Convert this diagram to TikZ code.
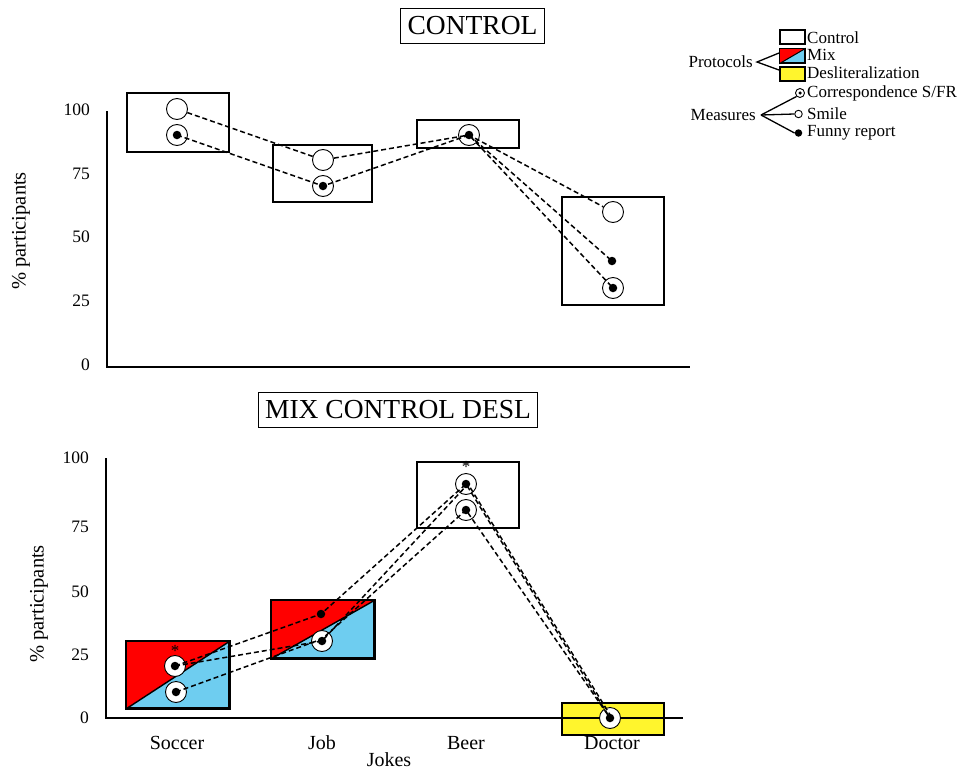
\documentclass[tikz,border=0pt]{standalone}
\usepackage{fontspec}
\setmainfont{Liberation Serif}
\definecolor{mixred}{RGB}{255,0,0}
\definecolor{mixblue}{RGB}{110,205,240}
\definecolor{deslyellow}{RGB}{255,245,45}
\begin{document}
\begin{tikzpicture}[x=1pt,y=-1pt,
  axis/.style={line width=1.8pt},
  pbox/.style={rectangle,draw,line width=1.6pt,inner sep=0pt,minimum width=102pt},
  lbox/.style={rectangle,draw,line width=1.4pt,inner sep=0pt,minimum width=25pt,minimum height=14pt},
  ttl/.style={rectangle,draw,line width=1.1pt,inner xsep=7pt,inner ysep=8pt,font=\fontsize{27.5}{30}\selectfont},
  tick/.style={anchor=east,inner sep=0pt,font=\fontsize{17.5}{20}\selectfont},
  ylab/.style={rotate=90,inner sep=0pt,font=\fontsize{20.5}{24}\selectfont},
  xlab/.style={inner sep=0pt,font=\fontsize{20}{24}\selectfont},
  leg/.style={anchor=west,inner sep=0pt,font=\fontsize{17}{20}\selectfont},
  ring/.style={circle,draw,fill=white,line width=0.9pt,minimum size=21pt,inner sep=0pt},
  dotm/.style={circle,fill=black,minimum size=8.5pt,inner sep=0pt},
  conn/.style={dashed,dash pattern=on 5pt off 3pt,line width=1.5pt},
  star/.style={inner sep=0pt,font=\fontsize{17}{20}\selectfont},
  brace/.style={line width=1.3pt}]
\useasboundingbox (0,0) rectangle (967,771);

% ---------------- TOP CHART ----------------
\node[ttl] (t1) at (472.5,26) {CONTROL};
\coordinate (ta0) at (107,111);
\coordinate (ta1) at (107,367);
\coordinate (ta2) at (690,367);
\draw[axis] (ta0) -- (ta1) -- (ta2);
\node[tick] (tt100) at (90,110) {100};
\node[tick] (tt75) at (90,174) {75};
\node[tick] (tt50) at (90,237) {50};
\node[tick] (tt25) at (90,301) {25};
\node[tick] (tt0) at (90,365) {0};
\node[ylab] (tyl) at (21,231) {\% participants};

\node[pbox,minimum height=59pt] (tbS) at (178,122.5) {};
\node[pbox,minimum height=57pt,minimum width=99pt] (tbJ) at (322.5,173.5) {};
\node[pbox,minimum height=28pt] (tbB) at (468,134) {};
\node[pbox,minimum height=108pt] (tbD) at (613,251) {};

% correspondence rings
\node[ring] (tcS) at (177,135) {};
\node[ring] (tcJ) at (323,186) {};
\node[ring] (tcB) at (469,135) {};
\node[ring] (tcD) at (613,288) {};
% smile circles
\node[ring] (tsS) at (177,109) {};
\node[ring] (tsJ) at (323,160) {};
\node[ring] (tsD) at (613,212) {};
% funny report point (Doctor)
\coordinate (tfD) at (612,261);

% connectors
\draw[conn] (tsS) -- (tsJ) -- (tcB.center) -- (tsD);
\draw[conn] (tcS.center) -- (tcJ.center) -- (tcB.center) -- (tcD.center);
\draw[conn] (tcB.center) -- (tfD);

% dots
\node[dotm] (tdS) at (tcS) {};
\node[dotm] (tdJ) at (tcJ) {};
\node[dotm] (tdB) at (tcB) {};
\node[dotm] (tdD) at (tcD) {};
\node[dotm] (tdF) at (tfD) {};

% ---------------- BOTTOM CHART ----------------
\node[ttl] (t2) at (398,410) {MIX CONTROL DESL};
\coordinate (ba0) at (106,458);
\coordinate (ba1) at (106,718);
\coordinate (ba2) at (683,718);
\node[tick] (bt100) at (89,458) {100};
\node[tick] (bt75) at (89,527) {75};
\node[tick] (bt50) at (89,592) {50};
\node[tick] (bt25) at (89,655) {25};
\node[tick] (bt0) at (89,718) {0};
\node[ylab] (byl) at (39,604) {\% participants};

% Soccer mix box
\node[pbox,minimum height=66pt,fill=mixblue] (bbS) at (178,675) {};
\fill[mixred] (bbS.south west) -- (bbS.north west) -- (bbS.north east) -- cycle;
\draw[line width=1.4pt] (bbS.south west) -- (bbS.north east);
\draw[line width=1.6pt] (bbS.south west) rectangle (bbS.north east);
% Job mix box
\node[pbox,minimum height=57pt,fill=mixblue] (bbJ) at (323,629.5) {};
\fill[mixred] (bbJ.south west) -- (bbJ.north west) -- (bbJ.north east) -- cycle;
\draw[line width=1.4pt] (bbJ.south west) -- (bbJ.north east);
\draw[line width=1.6pt] (bbJ.south west) rectangle (bbJ.north east);
% Beer control box
\node[pbox,minimum height=66pt] (bbB) at (468,495) {};
% Doctor desl box
\node[pbox,minimum height=32pt,fill=deslyellow] (bbD) at (613,719) {};

\draw[axis] (ba0) -- (ba1) -- (ba2);

\node[xlab] (xS) at (177,743) {Soccer};
\node[xlab] (xJ) at (322,743) {Job};
\node[xlab] (xB) at (466,743) {Beer};
\node[xlab] (xD) at (612,743) {Doctor};
\node[xlab] (xT) at (389,760) {Jokes};

% rings
\node[ring] (bcS2) at (175,666) {};
\node[ring] (bcS1) at (176,692) {};
\node[ring] (bcJ) at (322,641) {};
\node[ring] (bcB9) at (466,484) {};
\node[ring] (bcB8) at (466,510) {};
\node[ring] (bcD) at (610,718) {};
\coordinate (bfJ) at (321,614);

% connectors
\draw[conn] (bcS2.center) -- (bfJ) -- (bcB9.center) -- (bcD.center);
\draw[conn] (bcS2.center) -- (bcJ.center) -- ([xshift=2pt]bcB9.center) -- ([xshift=2pt]bcD.center);
\draw[conn] (bcS1.center) -- ([yshift=2pt]bcJ.center) -- (bcB8.center) -- (bcD.center);

% dots
\node[dotm] (bdS2) at (bcS2) {};
\node[dotm] (bdS1) at (bcS1) {};
\node[dotm] (bdJ) at (bcJ) {};
\node[dotm] (bdB9) at (bcB9) {};
\node[dotm] (bdB8) at (bcB8) {};
\node[dotm] (bdD) at (bcD) {};
\node[dotm] (bdF) at (bfJ) {};

\node[star] (sS) at (175,651) {*};
\node[star] (sB) at (466,467) {*};

% ---------------- LEGEND ----------------
\node[lbox] (lC) at (792.5,37) {};
\node[lbox,fill=mixblue] (lM) at (792.5,56) {};
\fill[mixred] (lM.south west) -- (lM.north west) -- (lM.north east) -- cycle;
\draw[line width=1pt] (lM.south west) -- (lM.north east);
\draw[line width=1.4pt] (lM.south west) rectangle (lM.north east);
\node[lbox,fill=deslyellow] (lD) at (792.5,74) {};
\node[leg] (lCt) at (807,38) {Control};
\node[leg] (lMt) at (807,55) {Mix};
\node[leg] (lDt) at (807,73) {Desliteralization};
\node[leg,anchor=east] (lP) at (753,62) {Protocols};
\coordinate (pv) at (757,62);
\coordinate (pa) at (779,53);
\coordinate (pb) at (779,70);
\draw[brace] (pa) -- (pv) -- (pb);

\node[leg,anchor=east] (lMe) at (756,115) {Measures};
\coordinate (mv) at (761,115);
\node[circle,draw,line width=0.9pt,minimum size=9pt,inner sep=0pt] (lsC) at (800,93) {};
\node[circle,fill=black,minimum size=3.5pt,inner sep=0pt] (lsCd) at (lsC) {};
\node[circle,draw,line width=0.9pt,minimum size=7.5pt,inner sep=0pt] (lsS) at (798.5,114) {};
\node[circle,fill=black,minimum size=7.5pt,inner sep=0pt] (lsF) at (798.5,133) {};
\draw[brace] (mv) -- (lsC.south west);
\draw[brace] (mv) -- (lsS.west);
\draw[brace] (mv) -- (lsF.west);
\node[leg] (lCo) at (807,93) {Correspondence S/FR};
\node[leg] (lSm) at (807,114) {Smile};
\node[leg] (lFr) at (807,133) {Funny report};
\end{tikzpicture}
\end{document}
